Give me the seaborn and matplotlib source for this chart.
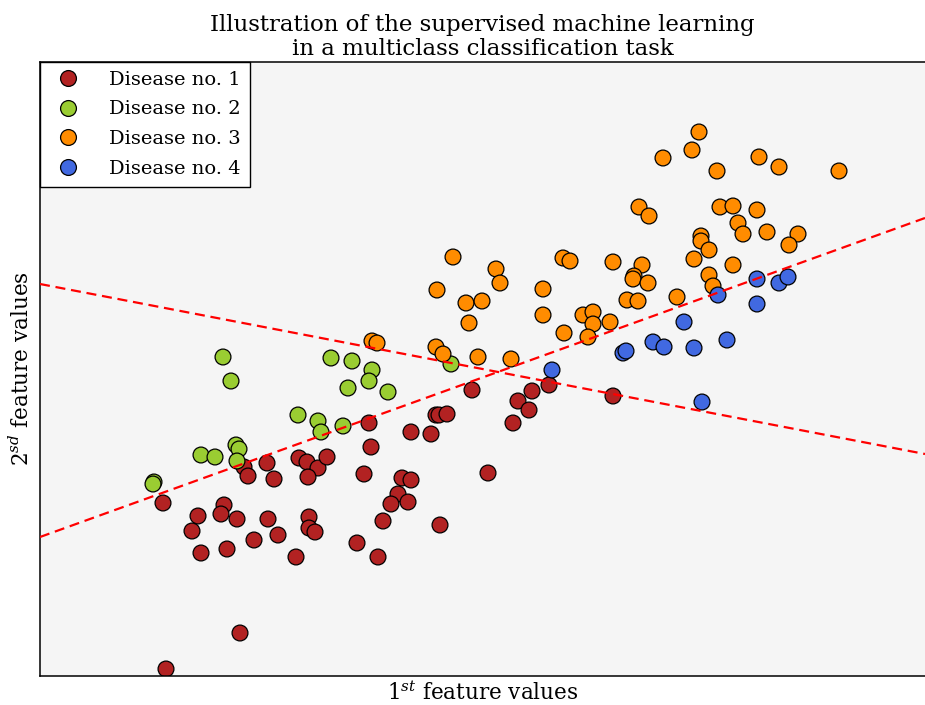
import matplotlib
matplotlib.use("Agg")
import matplotlib.pyplot as plt
import seaborn as sns
import pandas as pd

# Feature measurements per class (1st feature, 2nd feature)
d1_x = [123, 204, 208, 227, 234, 259, 267, 278, 268, 287, 184, 181, 158, 197, 228, 269,
        152, 269, 275, 238, 214, 161, 187, 256, 200, 126, 432, 478, 473, 329, 371, 391,
        396, 399, 407, 331, 324, 362, 371, 358, 368, 351, 448, 343, 400, 317, 338, 492,
        509, 489, 573]
d1_y = [197, 233, 224, 237, 221, 242, 238, 232, 223, 243, 195, 186, 184, 181, 181, 183,
        169, 172, 168, 165, 160, 147, 151, 143, 67, 31, 310, 299, 277, 277, 268, 266,
        285, 285, 286, 253, 226, 222, 220, 206, 198, 196, 227, 179, 175, 157, 143, 309,
        315, 290, 304]

d2_x = [183, 191, 258, 278, 281, 196, 199, 197, 161, 175, 114, 113, 291, 312, 332, 329,
        308, 348, 411, 303]
d2_y = [343, 319, 285, 279, 268, 255, 251, 239, 245, 243, 218, 216, 342, 339, 330, 319,
        312, 308, 336, 274]

d3_x = [659, 652, 623, 719, 739, 677, 799, 599, 609, 680, 693, 717, 698, 703, 727, 758,
        749, 661, 661, 669, 654, 693, 573, 602, 594, 593, 608, 669, 673, 587, 598, 637,
        413, 456, 460, 397, 426, 442, 429, 503, 503, 523, 530, 543, 553, 553, 570, 524,
        548, 396, 403, 438, 471, 332, 337]
d3_y = [568, 550, 542, 543, 533, 529, 529, 493, 484, 493, 494, 490, 477, 466, 468, 466,
        455, 464, 459, 450, 441, 435, 438, 435, 424, 421, 417, 425, 414, 400, 399, 403,
        443, 431, 417, 410, 397, 399, 377, 411, 385, 442, 439, 385, 388, 376, 378, 367,
        363, 353, 346, 343, 341, 359, 357]

d4_x = [512, 583, 586, 613, 624, 644, 654, 687, 662, 678, 717, 717, 739, 748]
d4_y = [330, 347, 349, 358, 353, 378, 352, 360, 298, 405, 396, 421, 417, 423]

class_names = ["Disease no. 1", "Disease no. 2", "Disease no. 3", "Disease no. 4"]
class_colors = ["#B22222", "#9ACD32", "#FF8C00", "#4169E1"]

# Two linear decision boundaries (x endpoints, y endpoints)
boundary_x = [0, 885]
boundary1_y = [163, 482]
boundary2_y = [416, 246]

frames = []
for name, xs, ys in zip(class_names, [d1_x, d2_x, d3_x, d4_x], [d1_y, d2_y, d3_y, d4_y]):
    frames.append(pd.DataFrame({"f1": xs, "f2": ys, "label": name}))
df = pd.concat(frames, ignore_index=True)

sns.set_theme(style="white")
plt.rcParams["font.family"] = ["DejaVu Serif"]
plt.rcParams["mathtext.fontset"] = "dejavuserif"
plt.rcParams["text.color"] = "black"
plt.rcParams["axes.labelcolor"] = "black"

fig = plt.figure(figsize=(9.25, 7.05), dpi=100)
ax = fig.add_axes([40 / 925, 29 / 705, 885 / 925, 614 / 705])
ax.set_facecolor("#F5F5F5")

sns.scatterplot(data=df, x="f1", y="f2", hue="label", hue_order=class_names,
                palette=class_colors, s=130, edgecolor="black", linewidth=0.9,
                ax=ax, zorder=2)

lines_df = pd.DataFrame({"f1": boundary_x * 2,
                         "f2": boundary1_y + boundary2_y,
                         "b": ["a", "a", "b", "b"]})
existing = set(ax.lines)
for key, grp in lines_df.groupby("b"):
    sns.lineplot(data=grp, x="f1", y="f2", color="red",
                 linewidth=1.6, ax=ax, zorder=3, legend=False)
for ln in ax.lines:
    if ln not in existing:
        ln.set_linestyle((0, (4.5, 2.6)))

ax.set_xlim(0, 885)
ax.set_ylim(24, 638)
ax.set_xticks([])
ax.set_yticks([])
for side in ["left", "top", "bottom"]:
    ax.spines[side].set_color("black")
    ax.spines[side].set_linewidth(1.1)
ax.spines["right"].set_visible(False)

ax.set_xlabel(r"$1^{st}$ feature values", fontsize=15.5, labelpad=4)
ax.set_ylabel(r"$2^{sd}$ feature values", fontsize=15.5, labelpad=4)
ax.set_title("Illustration of the supervised machine learning\nin a multiclass classification task",
             fontsize=16.5, linespacing=1.15, pad=5, color="black")

leg = ax.legend(loc="upper left", borderaxespad=0, fancybox=False, framealpha=1,
                edgecolor="black", fontsize=14, handletextpad=1.1,
                borderpad=0.45, labelspacing=0.6, markerscale=1.0)
leg.get_frame().set_linewidth(1.0)
for txt in leg.get_texts():
    txt.set_color("black")

fig.savefig("out.png", dpi=100)
